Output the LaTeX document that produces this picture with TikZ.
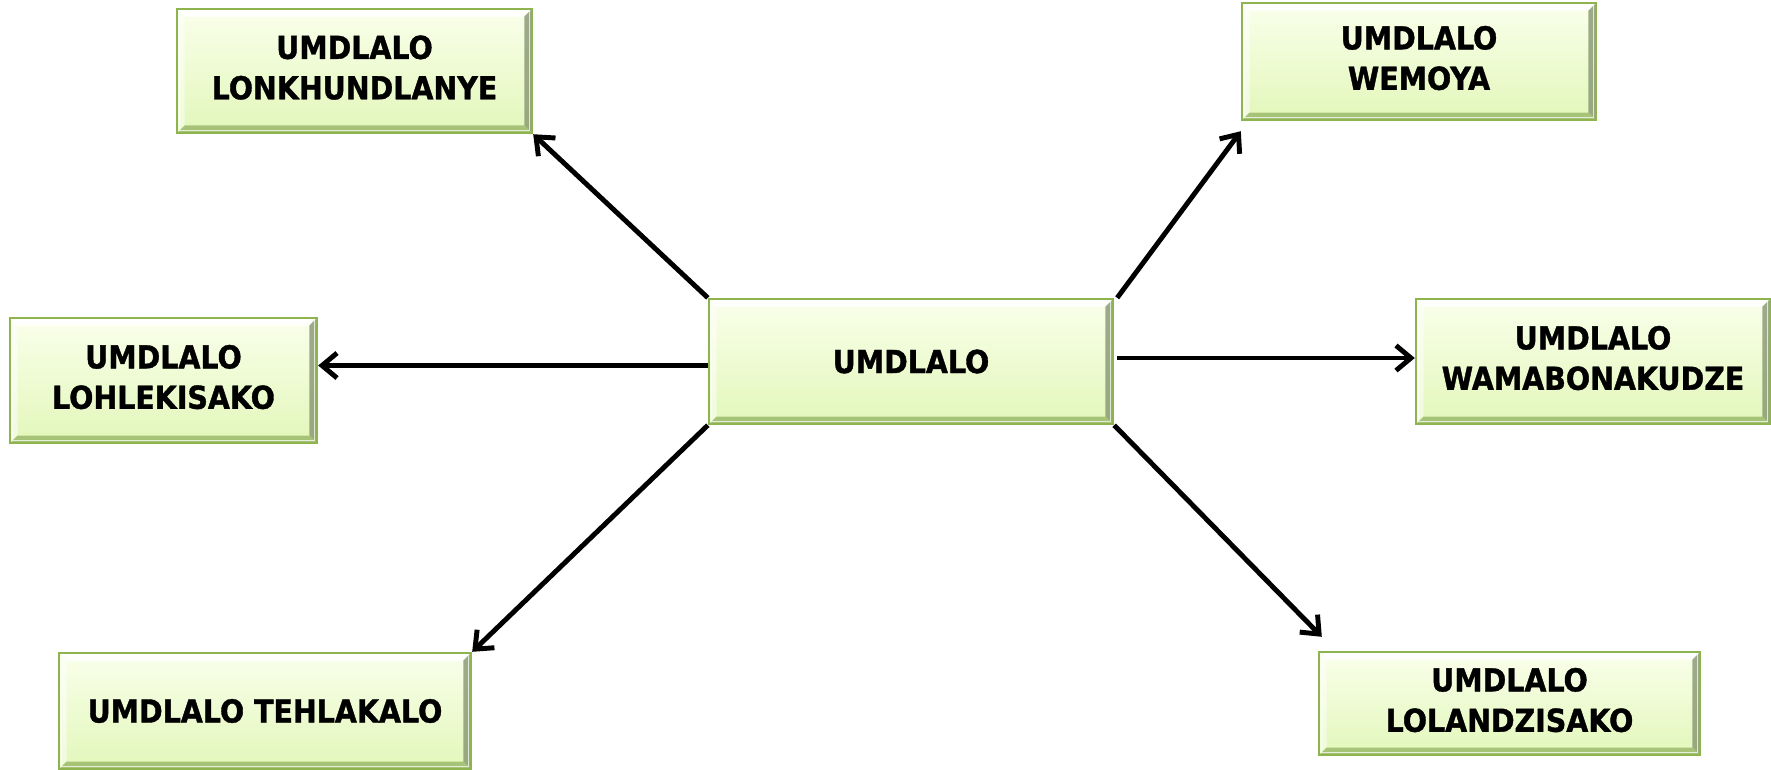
\documentclass[tikz,border=0pt]{standalone}
\usepackage{fontspec}
\setmainfont{DejaVu Sans}[FakeStretch=0.9,BoldFeatures={FakeBold=1.2}]
\usepackage{tikz}
\usetikzlibrary{arrows.meta}

\definecolor{boxedge}{HTML}{8DB44F}
\definecolor{boxtop}{HTML}{FAFFEB}
\definecolor{boxbottom}{HTML}{E2F7BA}
\definecolor{bevelright}{HTML}{7F8F6A}
\definecolor{bevelbottom}{HTML}{9CBA6C}

\begin{document}
\begin{tikzpicture}[x=0.02cm,y=-0.02cm,
  gamebox/.style={rectangle,draw=boxedge,line width=1.4pt,top color=boxtop,bottom color=boxbottom,
    inner sep=0pt,font=\fontsize{18}{23}\selectfont\bfseries,
    path picture={
      \path (path picture bounding box.north west) coordinate (nw)
            (path picture bounding box.north east) coordinate (ne)
            (path picture bounding box.south west) coordinate (sw)
            (path picture bounding box.south east) coordinate (se);
      \fill[white,opacity=0.9] (nw) -- (ne) -- ([xshift=-0.15cm,yshift=-0.15cm]ne) -- ([xshift=0.15cm,yshift=-0.15cm]nw) -- cycle;
      \fill[white,opacity=0.5] (nw) -- ([xshift=0.15cm,yshift=-0.15cm]nw) -- ([xshift=0.15cm,yshift=0.15cm]sw) -- (sw) -- cycle;
      \fill[bevelright,opacity=0.75] (ne) -- (se) -- ([xshift=-0.15cm,yshift=0.15cm]se) -- ([xshift=-0.15cm,yshift=-0.15cm]ne) -- cycle;
      \fill[bevelbottom,opacity=0.85] (sw) -- ([xshift=0.15cm,yshift=0.15cm]sw) -- ([xshift=-0.15cm,yshift=0.15cm]se) -- (se) -- cycle;
      \draw[white,opacity=0.7,line width=0.8pt] ([xshift=0.05cm,yshift=-0.05cm]nw) rectangle ([xshift=-0.05cm,yshift=0.05cm]se);
    }},
  link/.style={line width=2.8pt,-{Straight Barb[length=0.3cm,width=0.5cm,line width=2.8pt]}}]

\useasboundingbox (0,0) rectangle (1771,769);

\node (Umdlalo) at (911,361.5) [gamebox,minimum width=8.08cm,minimum height=2.5cm] {UMDLALO};

\node (Lonkhundlanye) at (354.5,71) [gamebox,minimum width=7.1cm,minimum height=2.48cm] {\begin{tabular}{c}UMDLALO\\LONKHUNDLANYE\end{tabular}};

\node (Wemoya) at (1419,61.5) [gamebox,minimum width=7.08cm,minimum height=2.34cm] {\begin{tabular}{c}UMDLALO\\WEMOYA\end{tabular}};

\node (Lohlekisako) at (163.5,380.5) [gamebox,minimum width=6.14cm,minimum height=2.5cm] {\begin{tabular}{c}UMDLALO\\LOHLEKISAKO\end{tabular}};

\node (Wamabonakudze) at (1593,361.5) [gamebox,minimum width=7.08cm,minimum height=2.5cm] {\begin{tabular}{c}UMDLALO\\WAMABONAKUDZE\end{tabular}};

\node (Tehlakalo) at (265,711) [gamebox,minimum width=8.24cm,minimum height=2.32cm] {UMDLALO TEHLAKALO};

\node (Lolandzisako) at (1509.5,703.5) [gamebox,minimum width=7.62cm,minimum height=2.06cm] {\begin{tabular}{c}UMDLALO\\LOLANDZISAKO\end{tabular}};

\draw[link] (Umdlalo.north west) -- (Lonkhundlanye.south east);
\draw[link] ([xshift=0.06cm]Umdlalo.north east) -- ([yshift=-0.2cm]Wemoya.south west);
\draw[link] ([yshift=-0.08cm]Umdlalo.west) -- ([yshift=-0.08cm]Umdlalo.west -| Lohlekisako.east);
\draw[link] ([xshift=0.06cm,yshift=0.07cm]Umdlalo.east) -- ([yshift=0.07cm]Wamabonakudze.west);
\draw[link] (Umdlalo.south west) -- (Tehlakalo.north east);
\draw[link] (Umdlalo.south east) -- ([xshift=0.08cm,yshift=0.28cm]Lolandzisako.north west);

\end{tikzpicture}
\end{document}
